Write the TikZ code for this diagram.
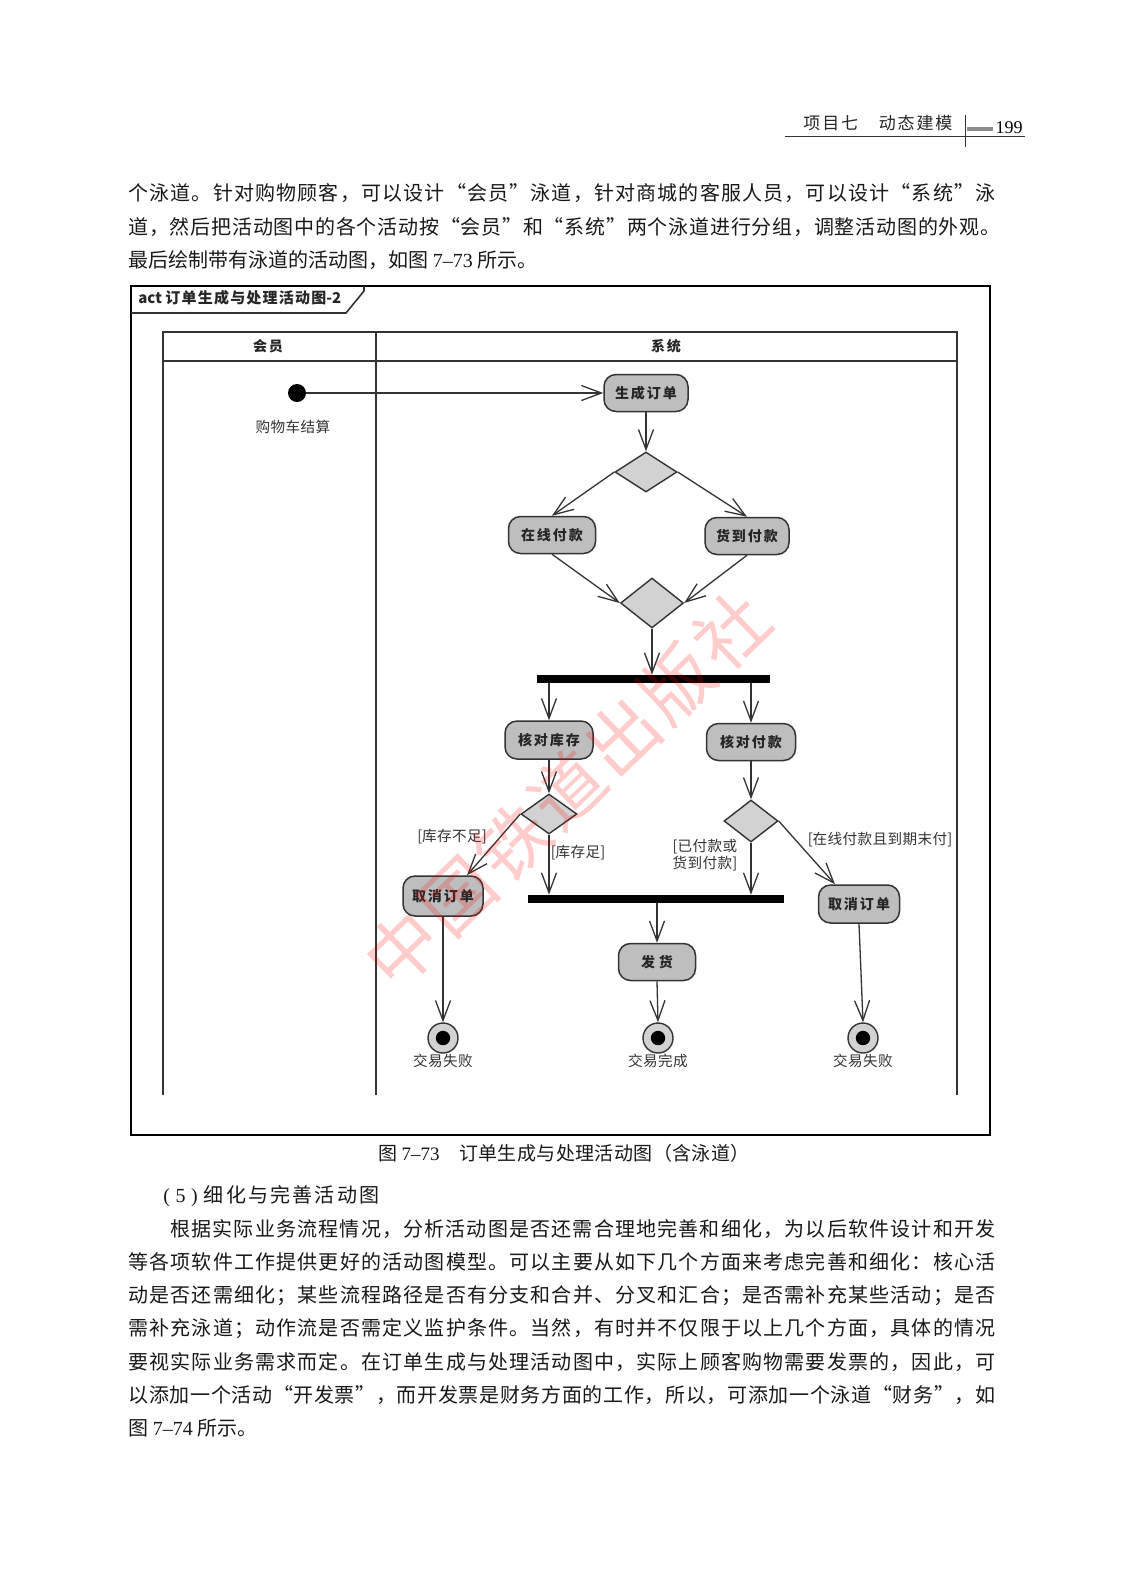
\documentclass[tikz,border=0pt]{standalone}
\usepackage{fontspec}
\setmainfont{Noto Sans CJK SC}
\newfontfamily\numf{Liberation Serif}
\usetikzlibrary{shapes.geometric,arrows.meta,calc}
\newcount\cjkc
\cjkc="4E00
\loop\XeTeXcharclass\cjkc=1 \advance\cjkc by 1 \ifnum\cjkc<"A000 \repeat
\XeTeXcharclass"3000=1 \XeTeXcharclass"3001=1 \XeTeXcharclass"3002=1
\XeTeXcharclass"FF0C=1 \XeTeXcharclass"FF1B=1 \XeTeXcharclass"FF1A=1
\XeTeXcharclass"201C=1 \XeTeXcharclass"201D=1 \XeTeXcharclass"FF08=1 \XeTeXcharclass"FF09=1
\newdimen\cjkgap \cjkgap=0pt
\newcommand\setgap[1]{\global\cjkgap=#1\relax}
\XeTeXinterchartokenstate=1
\XeTeXinterchartoks 1 1 = {\hskip\cjkgap plus 3pt\relax}
\XeTeXinterchartoks 0 1 = {\hskip0pt plus 3pt\relax}
\XeTeXinterchartoks 1 0 = {\hskip0pt plus 3pt\relax}
\definecolor{ln}{HTML}{333333}
\definecolor{boxg}{HTML}{BEBEBE}
\definecolor{decg}{HTML}{D2D2D2}
\tikzset{
  act/.style={draw=ln, fill=boxg, rounded corners=6pt, line width=0.75pt, inner sep=0pt,
    minimum height=18.5pt, text=black!85, font={\bfseries\fontsize{7}{8}\selectfont\setgap{1pt}}},
  dec/.style={diamond, draw=ln, fill=decg, line width=0.7pt, inner sep=0pt},
  syncbar/.style={fill=black, draw=none, inner sep=0pt, minimum height=4pt},
  initnode/.style={circle, fill=black, minimum size=9pt, inner sep=0pt},
  finnode/.style={circle, draw=ln, fill=decg, line width=0.7pt, minimum size=15pt, inner sep=0pt,
    path picture={\fill[black] (path picture bounding box.center) circle (3.6pt);}},
  flow/.style={draw=ln, line width=0.65pt, -{Straight Barb[length=10pt,width=7.5pt]}},
  lbl/.style={inner sep=0pt, text=black!80, font={\fontsize{7.3}{8.8}\selectfont\setgap{0.2pt}}},
  hdr/.style={inner sep=0pt, text=black!85, font={\bfseries\fontsize{7}{8}\selectfont\setgap{1pt}}},
  bodyline/.style={anchor=west, inner sep=0pt, text=black!90, font={\fontsize{10}{12}\selectfont\setgap{0pt}}},
  lane/.style={draw=ln, line width=1pt}
}
\begin{document}
\begin{tikzpicture}[x=0.5pt,y=-0.5pt]
\useasboundingbox[fill=white] (0,0) rectangle (1122,1570);

% page header
\node[anchor=west, inner sep=0pt, text=black!85, font={\fontsize{8.5}{10}\selectfont\setgap{0pt}}] (htitle) at (803,123)
  {\makebox[74.5pt][s]{项目七　动态建模}};
\draw[line width=0.4pt, black!80] (785,136) -- (1025,136);
\draw[line width=0.5pt, black!80] (965,115) -- (965,147);
\fill[black!45] (967,127) rectangle (993,131);
\node[inner sep=0pt, font=\numf\fontsize{9}{10}\selectfont] (pageno) at (1009,128) {199};

% paragraph before figure
\node[bodyline] (p1) at (128,193) {\makebox[433.5pt][s]{个泳道。针对购物顾客，可以设计“会员”泳道，针对商城的客服人员，可以设计“系统”泳}};
\node[bodyline] (p2) at (128,227) {\makebox[436pt][s]{道，然后把活动图中的各个活动按“会员”和“系统”两个泳道进行分组，调整活动图的外观。}};
\node[bodyline] (p3) at (128,260) {最后绘制带有泳道的活动图，如图 {\numf 7–73} 所示。};

% outer frame
\draw[line width=1.3pt, black] (131,286) rectangle (990,1135);
\draw[line width=0.8pt, ln] (131,313) -- (346,313) -- (364,291) -- (364,286);
\node[anchor=west, inner sep=0pt, text=black!85, font={\bfseries\fontsize{7.5}{9}\selectfont\setgap{0.6pt}}] (ftitle) at (138,298) {act 订单生成与处理活动图-2};

% swimlanes
\draw[lane] (163,1095) -- (163,332) -- (957,332) -- (957,1095);
\draw[lane] (163,361) -- (957,361);
\draw[lane] (376,332) -- (376,1095);
\node[hdr] (lane1) at (268,346) {会员};
\node[hdr] (lane2) at (666,346) {系统};

% nodes
\node[initnode] (start) at (297,393) {};
\node[lbl] (startlbl) at (293,427) {购物车结算};
\node[act, minimum width=42pt] (gen) at (646,393) {生成订单};
\node[dec, minimum width=31pt, minimum height=20pt] (d1) at (646,472) {};
\node[act, minimum width=43.5pt] (pay1) at (552,535) {在线付款};
\node[act, minimum width=42pt] (pay2) at (747,536) {货到付款};
\node[dec, minimum width=31.5pt, minimum height=25pt] (d2) at (652,603) {};
\node[syncbar, minimum width=116.5pt] (fork) at (653.5,679) {};
\node[act, minimum width=44pt, minimum height=19pt] (chk1) at (549,740) {核对库存};
\node[act, minimum width=44.5pt] (chk2) at (751,742) {核对付款};
\node[dec, minimum width=28pt, minimum height=20pt] (d3) at (549,814) {};
\node[dec, minimum width=27pt, minimum height=21pt] (d4) at (751,821) {};
\node[syncbar, minimum width=128pt] (join) at (656,899) {};
\node[act, minimum width=40pt, minimum height=20pt] (cancel1) at (443,896) {取消订单};
\node[act, minimum width=40.5pt, minimum height=19pt] (cancel2) at (859,904) {取消订单};
\node[act, minimum width=38.5pt] (ship) at (657,962) {发\hspace{2pt}货};
\node[finnode] (f1) at (443,1038) {};
\node[finnode] (f2) at (658,1038) {};
\node[finnode] (f3) at (863,1038) {};
\node[lbl] (f1lbl) at (443,1061) {交易失败};
\node[lbl] (f2lbl) at (658,1061) {交易完成};
\node[lbl] (f3lbl) at (863,1061) {交易失败};

% guards
\node[lbl] (g1) at (452,837) {[库存不足]};
\node[lbl] (g2) at (578,853) {[库存足]};
\node[lbl, align=center] (g3) at (705,855) {[已付款或\\货到付款]};
\node[lbl] (g4) at (880,840) {[在线付款且到期末付]};

% connectors
\draw[flow] (start) -- (gen.west);
\draw[flow] (gen.south) -- (d1.north);
\draw[flow] (d1.west) -- (pay1.north);
\draw[flow] (d1.east) -- (pay2.north);
\draw[flow] (pay1.south) -- (d2.west);
\draw[flow] (pay2.south) -- (d2.east);
\draw[flow] (d2.south) -- (d2.south |- fork.north);
\draw[flow] (chk1.north |- fork.south) -- (chk1.north);
\draw[flow] (chk2.north |- fork.south) -- (chk2.north);
\draw[flow] (chk1.south) -- (d3.north);
\draw[flow] (chk2.south) -- (d4.north);
\draw[flow] (d3.west) -- ([xshift=12pt]cancel1.north);
\draw[flow] (d3.south) -- (d3.south |- join.north);
\draw[flow] (d4.south) -- (d4.south |- join.north);
\draw[flow] (d4.east) -- ([xshift=-12pt]cancel2.north);
\draw[flow] (ship.north |- join.south) -- (ship.north);
\draw[flow] (cancel1.south) -- (f1.north);
\draw[flow] (ship.south) -- (f2.north);
\draw[flow] (cancel2.south) -- (f3.north);

% watermark
\node[rotate=44, text=red, text opacity=0.2, inner sep=0pt, font={\fontsize{36}{38}\selectfont\setgap{2.2pt}}] (wm) at (567,790) {中国铁道出版社};

% caption and following text
\node[inner sep=0pt, text=black!90, font={\fontsize{9.5}{11}\selectfont\setgap{0.2pt}}] (cap) at (564,1153) {图 {\numf 7–73}　订单生成与处理活动图（含泳道）};
\node[bodyline] (s5) at (163,1196) {{\setgap{0.8pt}\numf (\;5\;)}\hspace{3pt}{\setgap{1.1pt}细化与完善活动图}};
\node[bodyline] (q1) at (170,1229) {\makebox[412.5pt][s]{根据实际业务流程情况，分析活动图是否还需合理地完善和细化，为以后软件设计和开发}};
\node[bodyline] (q2) at (128,1262) {\makebox[433.5pt][s]{等各项软件工作提供更好的活动图模型。可以主要从如下几个方面来考虑完善和细化：核心活}};
\node[bodyline] (q3) at (128,1296) {\makebox[433.5pt][s]{动是否还需细化；某些流程路径是否有分支和合并、分叉和汇合；是否需补充某些活动；是否}};
\node[bodyline] (q4) at (128,1329) {\makebox[433.5pt][s]{需补充泳道；动作流是否需定义监护条件。当然，有时并不仅限于以上几个方面，具体的情况}};
\node[bodyline] (q5) at (128,1362) {\makebox[433.5pt][s]{要视实际业务需求而定。在订单生成与处理活动图中，实际上顾客购物需要发票的，因此，可}};
\node[bodyline] (q6) at (128,1395) {\makebox[433.5pt][s]{以添加一个活动“开发票”，而开发票是财务方面的工作，所以，可添加一个泳道“财务”，如}};
\node[bodyline] (q7) at (128,1428) {图 {\numf 7–74} 所示。};
\end{tikzpicture}
\end{document}
